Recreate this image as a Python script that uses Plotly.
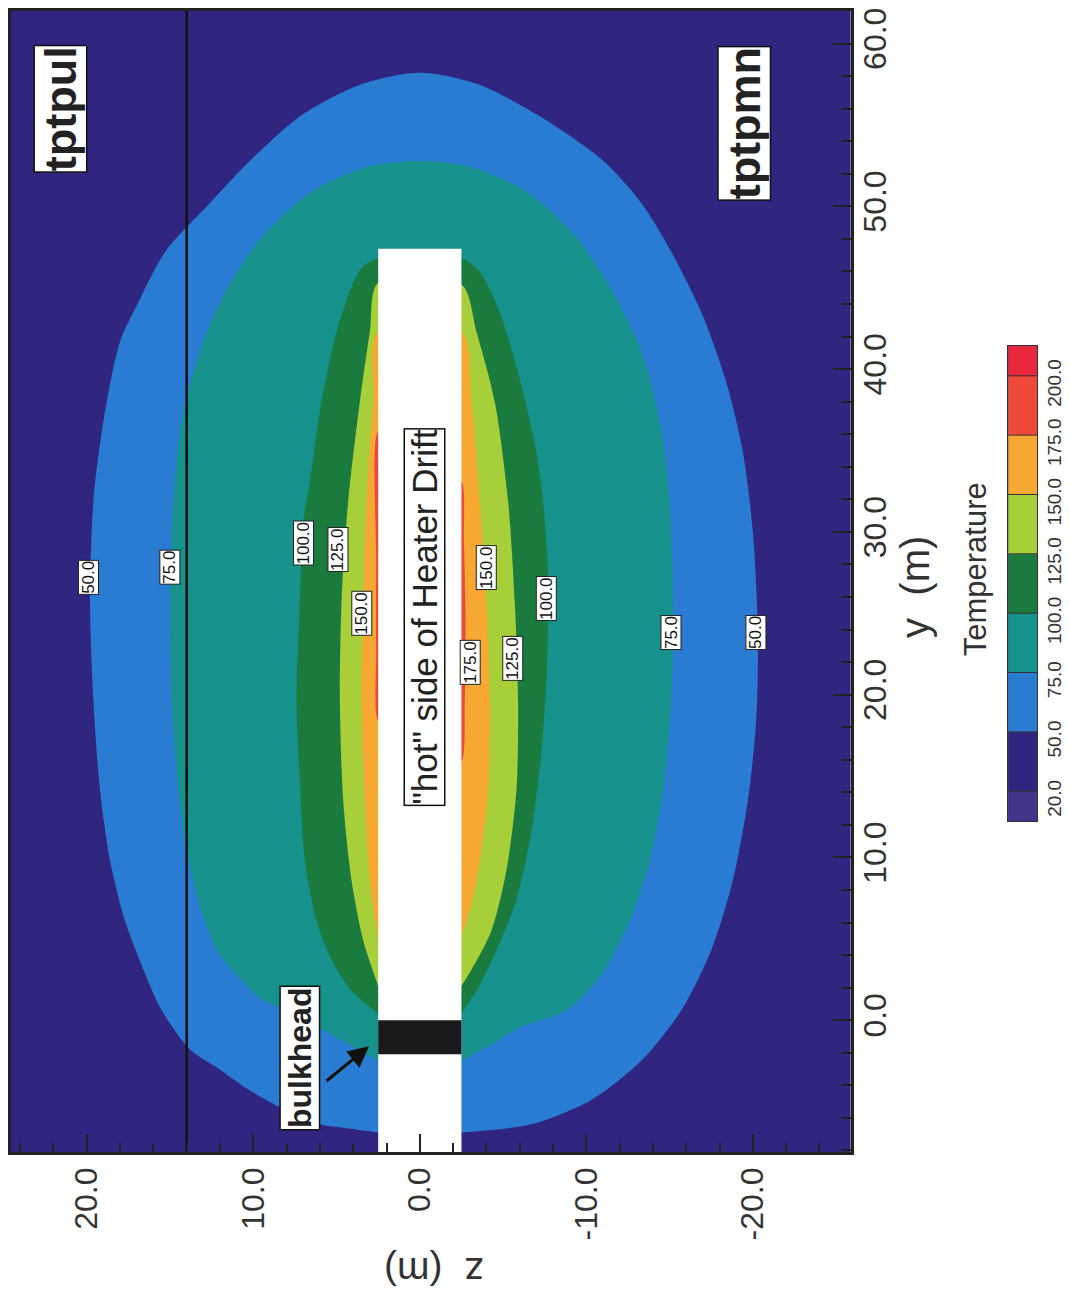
import plotly.graph_objects as go

# ---------------- data ----------------
z_range = [24.55, -25.87]          # horizontal axis: z (m), reversed
y_range = [-8.1, 62.0]             # vertical axis: y (m)

z_ticks = [20, 10, 0, -10, -20]
z_ticktext = ["20.0", "10.0", "0.0", "-10.0", "-20.0"]
y_ticks = [0, 10, 20, 30, 40, 50, 60]
y_ticktext = ["0.0", "10.0", "20.0", "30.0", "40.0", "50.0", "60.0"]

# contour boundaries (z, y) in metres
c50_z = [2.5, 4.7, 6.0, 8.3, 10.4, 12.2, 13.8, 15.5, 16.6, 17.7, 18.6, 19.2, 19.6, 19.8, 19.6, 19.0, 18.0,
         16.9, 15.3, 12.6, 10.1, 7.1, 3.5, 0.0, -3.5, -7.1, -10.9, -13.3, -15.1, -16.9, -18.4, -19.4,
         -20.0, -20.3, -20.2, -19.7, -18.8, -17.5, -15.7, -13.3, -10.3, -6.7, -2.5]
c50_y = [-6.9, -6.6, -6.4, -5.4, -4.2, -2.9, -1.8, 0.6, 3.1, 6.1, 9.8, 14.1, 19.6, 25.7, 31.9, 36.8, 41.7,
         44.1, 47.2, 50.2, 52.9, 55.6, 57.5, 58.2, 57.5, 55.6, 52.9, 50.2, 47.2, 43.5, 39.2, 34.9,
         30.0, 23.9, 18.4, 13.5, 8.6, 4.3, 0.6, -2.5, -4.9, -6.4, -6.9]

c75_z = [2.5, 5.3, 7.7, 9.5, 11.0, 12.2, 13.2, 14.0, 14.5, 14.9, 15.0, 14.8, 14.3, 13.2, 11.7, 9.5, 6.5,
         3.2, 0.0, -3.1, -6.4, -9.4, -11.6, -13.3, -14.4, -15.0, -15.2, -15.1, -14.6, -13.8, -12.6,
         -10.9, -8.8, -6.1, -4.3, -2.5]
c75_y = [-2.5, -0.9, 0.5, 1.3, 2.8, 4.3, 7.0, 10.4, 14.1, 19.6, 25.7, 31.9, 36.8, 41.1, 44.7, 48.1, 50.9,
         52.4, 52.8, 52.4, 50.9, 48.1, 44.7, 41.1, 36.8, 31.9, 25.7, 19.6, 14.1, 9.8, 6.1,
         2.8, 0.6, -0.4, -1.5, -2.5]

c100_z = [2.5, 4.1, 5.3, 6.2, 6.9, 7.2, 7.4, 7.2, 7.0, 6.6, 5.9, 5.0, 4.0, 3.4, 2.5,
          -2.5, -3.5, -4.3, -5.2, -6.2, -7.0, -7.4, -7.7, -7.7, -7.6, -7.3, -6.7, -5.8, -4.6, -3.4, -2.5]
c100_y = [0.4, 1.8, 3.7, 6.1, 9.8, 14.7, 19.6, 25.7, 30.6, 33.1, 38.0, 42.3, 45.3, 46.3, 46.8,
          46.8, 46.1, 44.7, 42.3, 38.6, 34.9, 31.9, 27.6, 24.5, 20.8, 16.5, 11.6, 7.4, 4.3, 1.8, 0.4]

c125_z = [2.5, 3.4, 4.1, 4.6, 4.8, 4.7, 4.3, 3.6, 3.0, 2.5,
          -2.5, -3.4, -4.5, -5.3, -5.7, -5.9, -5.8, -5.2, -4.3, -3.1, -2.5]
c125_y = [2.1, 4.9, 8.6, 13.5, 19.6, 25.7, 31.9, 38.0, 42.3, 45.3,
          45.2, 42.3, 38.0, 31.9, 25.7, 19.6, 14.1, 9.2, 5.5, 3.1, 2.1]

c150_z = [2.5, 3.0, 3.3, 3.5, 3.4, 3.2, 2.8, 2.5,
          -2.5, -3.1, -3.6, -4.0, -4.2, -4.1, -3.6, -3.0, -2.5]
c150_y = [4.9, 8.6, 13.5, 19.6, 25.7, 31.9, 38.0, 42.3,
          42.3, 38.0, 31.9, 25.7, 19.6, 14.1, 9.8, 6.7, 5.2]

c175r_z = [-2.0, -2.5, -2.65, -2.75, -2.7, -2.5, -2.0]
c175r_y = [33.1, 33.1, 29.4, 24.5, 19.6, 15.9, 15.9]
c175l_z = [2.0, 2.5, 2.62, 2.62, 2.5, 2.0]
c175l_y = [36.2, 36.2, 28.2, 22.7, 18.4, 18.4]

# heater drift, bulkhead, geologic contact
drift_z = [2.5, -2.5]
drift_y = [-8.1, 47.4]
bulkhead_y = [-2.1, 0.0]
contact_z = 14.0

# contour labels
lab_text = ["50.0", "75.0", "100.0", "125.0", "150.0", "150.0", "175.0", "125.0", "100.0", "75.0", "50.0"]
lab_z = [19.9, 15.0, 7.0, 4.9, 3.5, -4.0, -3.0, -5.6, -7.6, -15.1, -20.2]
lab_y = [27.2, 27.8, 29.3, 28.9, 25.0, 27.8, 22.0, 22.2, 25.9, 23.8, 23.8]

# colour bar
cb_labels = ["20.0", "50.0", "75.0", "100.0", "125.0", "150.0", "175.0", "200.0"]
cb_edges = [0.5, 1, 2, 3, 4, 5, 6, 7, 8, 8.5]
cb_colors = ["#41358b", "#30267f", "#2a7bd2", "#16918c", "#1b7a3d", "#a6cf3a", "#f6a833", "#ee4a3c", "#e8283c"]

# ---------------- styling ----------------
NAVY = "#30267f"
BLUE = "#2a7bd2"
TEAL = "#16918c"
DKGREEN = "#1b7a3d"
YG = "#a6cf3a"
ORANGE = "#f6a833"
RED = "#ee4a3c"
FONT = "Liberation Sans, Arial, sans-serif"

fig = go.Figure()


def band(zs, ys, color, smooth=True):
    line = dict(width=0, color=color)
    if smooth:
        line.update(shape="spline", smoothing=0.8)
    fig.add_trace(go.Scatter(x=zs, y=ys, mode="lines", fill="toself", fillcolor=color,
                             line=line, hoverinfo="skip", showlegend=False,
                             xaxis="x", yaxis="y"))


band(c50_z, c50_y, BLUE)
band(c75_z, c75_y, TEAL)
band(c100_z, c100_y, DKGREEN)
band(c125_z, c125_y, YG)
band(c150_z, c150_y, ORANGE)
band(c175r_z, c175r_y, RED)
band(c175l_z, c175l_y, RED)

# drift (white) and bulkhead (black)
band([drift_z[0], drift_z[1], drift_z[1], drift_z[0], drift_z[0]],
     [drift_y[0], drift_y[0], drift_y[1], drift_y[1], drift_y[0]], "white", smooth=False)
band([drift_z[0], drift_z[1], drift_z[1], drift_z[0], drift_z[0]],
     [bulkhead_y[0], bulkhead_y[0], bulkhead_y[1], bulkhead_y[1], bulkhead_y[0]], "#1a1a1a", smooth=False)

# geologic contact line
fig.add_trace(go.Scatter(x=[contact_z, contact_z], y=y_range, mode="lines",
                         line=dict(color="#111", width=2.5), hoverinfo="skip", showlegend=False))

# colour bar as heatmap
n = len(cb_colors)
scale = []
for k, c in enumerate(cb_colors):
    lo = max(0.0, (k - 0.5) / (n - 1))
    hi = min(1.0, (k + 0.5) / (n - 1))
    scale += [[lo, c], [hi, c]]
fig.add_trace(go.Heatmap(z=[[k] for k in range(n)], x=[0, 1], y=cb_edges, zmin=0, zmax=n - 1,
                         colorscale=scale, showscale=False, hoverinfo="skip", xaxis="x2", yaxis="y2"))
sep_x, sep_y = [], []
for e in cb_edges[1:-1]:
    sep_x += [0, 1, None]
    sep_y += [e, e, None]
fig.add_trace(go.Scatter(x=sep_x, y=sep_y, mode="lines", line=dict(color="#333", width=1),
                         hoverinfo="skip", showlegend=False, xaxis="x2", yaxis="y2"))

annotations = []
for t, zz, yy in zip(lab_text, lab_z, lab_y):
    annotations.append(dict(x=zz, y=yy, xref="x", yref="y", text=t, showarrow=False, textangle=-90,
                            font=dict(family=FONT, size=17, color="#111"), bgcolor="white",
                            bordercolor="#222", borderwidth=1, borderpad=0))

big = dict(family=FONT, size=45, color="#222", weight="bold")
annotations += [
    dict(x=21.6, y=56.0, xref="x", yref="y", text="tptpul", showarrow=False, textangle=-90, font=big,
         bgcolor="white", bordercolor="#111", borderwidth=1.5, borderpad=0),
    dict(x=-19.5, y=55.1, xref="x", yref="y", text="tptpmn", showarrow=False, textangle=-90, font=big,
         bgcolor="white", bordercolor="#111", borderwidth=1.5, borderpad=0),
    dict(x=7.2, y=-2.3, xref="x", yref="y", text="bulkhead", showarrow=False, textangle=-90,
         font=dict(family=FONT, size=32, color="#222", weight="bold"),
         bgcolor="white", bordercolor="#111", borderwidth=1.5, borderpad=1),
    dict(x=-0.3, y=24.75, xref="x", yref="y", text="\"hot\" side of Heater Drift", showarrow=False,
         textangle=-90, font=dict(family=FONT, size=35, color="#222"),
         bgcolor="white", bordercolor="#111", borderwidth=1.5, borderpad=0),
    dict(x=3.05, y=-1.6, xref="x", yref="y", text="", showarrow=True, ax=-44, ay=36,
         arrowhead=2, arrowsize=1.4, arrowwidth=3, arrowcolor="#111"),
    dict(x=0.8757, y=0.4956, xref="paper", yref="paper", text="y  (m)", showarrow=False, textangle=-90,
         font=dict(family=FONT, size=40, color="#333")),
    dict(x=0.3993, y=-0.1255, xref="paper", yref="paper", text="z  (m)", showarrow=False, textangle=180,
         font=dict(family=FONT, size=39, color="#333")),
    dict(x=0.9294, y=0.5105, xref="paper", yref="paper", text="Temperature", showarrow=False,
         textangle=-90, font=dict(family=FONT, size=31, color="#333")),
]

# The page body adds an 8 px offset, so the figure is drawn 8 px smaller
fig.update_layout(
    width=1062, height=1288,
    margin=dict(l=0, r=0, t=0, b=144),
    paper_bgcolor="white", plot_bgcolor=NAVY,
    showlegend=False,
    annotations=annotations,
    xaxis=dict(domain=[0, 0.79284], range=z_range, anchor="y", tickvals=z_ticks, ticktext=z_ticktext,
               tickangle=-90, ticks="inside", ticklen=18, tickwidth=2, tickcolor="#222",
               ticklabeloverflow="allow",
               minor=dict(dtick=2, ticks="inside", ticklen=9, tickwidth=1.5, tickcolor="#222"),
               showline=True, linecolor="#222", linewidth=2.5, mirror=True, showgrid=False, zeroline=False,
               tickfont=dict(family=FONT, size=32, color="#333")),
    yaxis=dict(domain=[0, 1], range=y_range, anchor="x", side="right", tickvals=y_ticks,
               ticktext=y_ticktext, tickangle=-90, ticks="inside", ticklen=18, tickwidth=2, tickcolor="#222",
               ticklabelstandoff=-6, ticklabeloverflow="allow",
               minor=dict(dtick=2, ticks="inside", ticklen=9, tickwidth=1.5, tickcolor="#222"),
               showline=True, linecolor="#222", linewidth=2.5, mirror=True, showgrid=False, zeroline=False,
               tickfont=dict(family=FONT, size=32, color="#333")),
    xaxis2=dict(domain=[0.94162, 0.96893], range=[0, 1], anchor="y2", showticklabels=False, ticks="",
                showgrid=False, zeroline=False, showline=True, linecolor="#333", linewidth=1, mirror=True),
    yaxis2=dict(domain=[0.2902, 0.7063], range=[0.5, 8.5], anchor="x2", side="right",
                tickvals=[1, 2, 3, 4, 5, 6, 7, 8], ticktext=cb_labels, tickangle=-90, ticks="",
                ticklabelshift=10, ticklabeloverflow="allow", showgrid=False, zeroline=False,
                showline=True, linecolor="#333", linewidth=1, mirror=True,
                tickfont=dict(family=FONT, size=19, color="#333")),
)

fig.write_html("out.html")
